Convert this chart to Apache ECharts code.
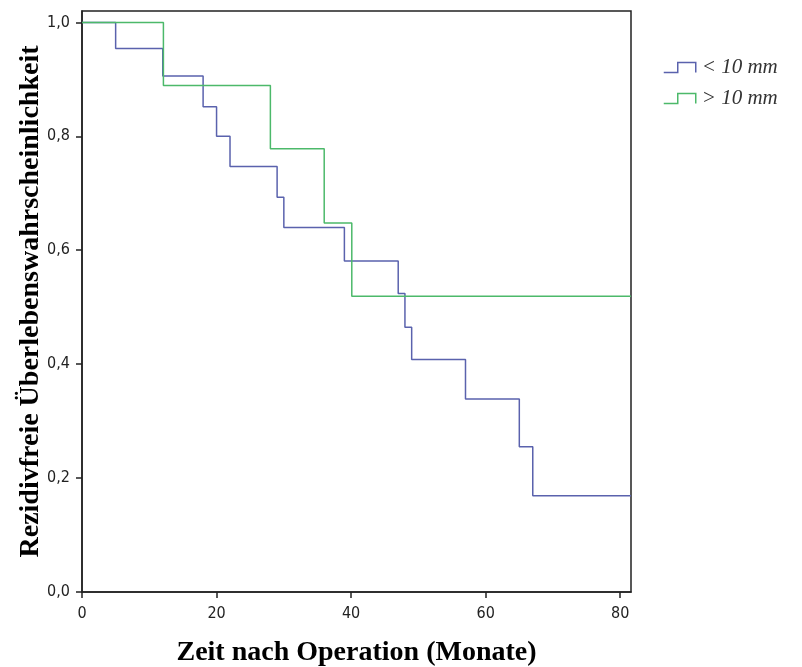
<!DOCTYPE html>
<html>
<head>
<meta charset="utf-8">
<script src="https://cdn.jsdelivr.net/npm/echarts@6/dist/echarts.min.js"></script>
<style>html,body{margin:0;padding:0;background:#fff}#c{width:802px;height:667px}</style>
</head>
<body>
<div id="c"></div>
<script>
// Data (Kaplan-Meier step curves)
const blueTimes = [0, 5, 12, 18, 20, 22, 29, 30, 39, 47, 48, 49, 57, 65, 67, 81.6];
const blueSurv  = [1.0, 0.954, 0.906, 0.852, 0.800, 0.747, 0.693, 0.640, 0.581, 0.524, 0.465, 0.408, 0.339, 0.255, 0.169, 0.169];
const greenTimes = [0, 12.1, 28, 36, 40.1, 81.6];
const greenSurv  = [1.0, 0.889, 0.778, 0.648, 0.519, 0.519];
const seriesNames = ['< 10 mm', '> 10 mm'];
const xTicks = [0, 20, 40, 60, 80];
const yTicks = [0, 0.2, 0.4, 0.6, 0.8, 1.0];
const xTitle = 'Zeit nach Operation (Monate)';
const yTitle = 'Rezidivfreie Überlebenswahrscheinlichkeit';

const blueColor = '#5a62ad';
const greenColor = '#4cb96a';
const pair = (xs, ys) => xs.map((x, i) => [x, ys[i]]);
const stepIcon = 'path://M0,10 L14,10 L14,0 L32,0 L32,10';
const tickFont = '"Liberation Sans Narrow", "DejaVu Sans Condensed", "Liberation Sans", sans-serif';
const serif = '"Liberation Serif", "DejaVu Serif", serif';

const chart = echarts.init(document.getElementById('c'), null, {renderer: 'canvas'});
chart.setOption({
  animation: false,
  backgroundColor: '#fff',
  grid: {left: 82, right: 171, top: 11, bottom: 75, outerBoundsMode: 'none', containLabel: false,
         show: true, borderColor: '#222', borderWidth: 1.5},
  legend: {
    orient: 'vertical', left: 663, top: 57, padding: 0, itemWidth: 34, itemHeight: 10, itemGap: 10,
    icon: stepIcon,
    textStyle: {fontFamily: serif, fontStyle: 'italic', fontSize: 21, color: '#333', lineHeight: 21},
    data: [
      {name: seriesNames[0], itemStyle: {color: 'rgba(0,0,0,0)', borderColor: blueColor, borderWidth: 1.5}},
      {name: seriesNames[1], itemStyle: {color: 'rgba(0,0,0,0)', borderColor: greenColor, borderWidth: 1.5}}
    ]
  },
  xAxis: {
    type: 'value', min: 0, max: 81.6,
    name: xTitle, nameLocation: 'middle', nameGap: 47, nameMoveOverlap: false,
    nameTextStyle: {fontFamily: serif, fontWeight: 'bold', fontSize: 28, color: '#000'},
    axisLine: {show: true, lineStyle: {color: '#222', width: 1.5}},
    axisTick: {show: true, length: 6, inside: false, customValues: xTicks, lineStyle: {color: '#222', width: 1.5}},
    axisLabel: {customValues: xTicks, margin: 14, fontFamily: tickFont, fontSize: 16, color: '#222'},
    splitLine: {show: false}
  },
  yAxis: {
    type: 'value', min: 0, max: 1.02,
    name: yTitle, nameLocation: 'middle', nameGap: 37, nameRotate: 90, nameMoveOverlap: false,
    nameTextStyle: {fontFamily: serif, fontWeight: 'bold', fontSize: 28, color: '#000'},
    axisLine: {show: true, lineStyle: {color: '#222', width: 1.5}},
    axisTick: {show: true, length: 6, inside: false, customValues: yTicks, lineStyle: {color: '#222', width: 1.5}},
    axisLabel: {customValues: yTicks, margin: 12, fontFamily: tickFont, fontSize: 16, color: '#222',
      formatter: v => v.toFixed(1).replace('.', ',')},
    splitLine: {show: false}
  },
  series: [
    {name: seriesNames[0], type: 'line', step: 'end', symbol: 'none', data: pair(blueTimes, blueSurv),
     lineStyle: {color: blueColor, width: 1.5}, itemStyle: {color: blueColor}},
    {name: seriesNames[1], type: 'line', step: 'end', symbol: 'none', data: pair(greenTimes, greenSurv),
     lineStyle: {color: greenColor, width: 1.5}, itemStyle: {color: greenColor}}
  ]
});
</script>
</body>
</html>
